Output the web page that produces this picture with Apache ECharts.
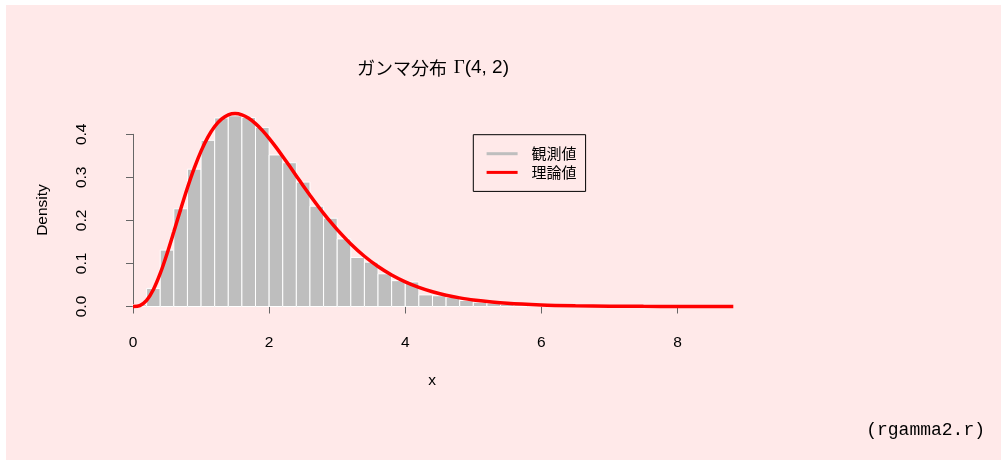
<!DOCTYPE html>
<html>
<head>
<meta charset="utf-8">
<script src="https://cdn.jsdelivr.net/npm/echarts@6/dist/echarts.min.js"></script>
<style>
  html, body { margin: 0; padding: 0; background: #ffffff; }
  #panel { position: absolute; left: 6px; top: 5px; right: 0; bottom: 0; background: #FFE9E9; }
  #chart { position: absolute; left: 0; top: 0; width: 1001px; height: 460px; }
</style>
</head>
<body>
<div id="panel"></div>
<div id="chart"></div>
<script>
// Histogram of simulated Gamma(4, 2) draws: bins of width 0.2
const binWidth = 0.2;
const binStarts = [
  0.0, 0.2, 0.4, 0.6, 0.8, 1.0, 1.2, 1.4, 1.6, 1.8,
  2.0, 2.2, 2.4, 2.6, 2.8, 3.0, 3.2, 3.4, 3.6, 3.8,
  4.0, 4.2, 4.4, 4.6, 4.8, 5.0, 5.2, 5.4, 5.6, 5.8,
  6.0, 6.2, 6.4, 6.6, 6.8
];
const observedDensity = [
  0.004, 0.042, 0.131, 0.227, 0.319, 0.386, 0.438, 0.443, 0.439, 0.416,
  0.352, 0.334, 0.289, 0.233, 0.205, 0.157, 0.114, 0.103, 0.076, 0.060,
  0.057, 0.027, 0.025, 0.021, 0.014, 0.010, 0.008, 0.005, 0.004, 0.003,
  0.002, 0.002, 0.001, 0.001, 0.001
];

// Theoretical density curve
const curveX = [
  0.0, 0.1, 0.2, 0.3, 0.4, 0.5, 0.6, 0.7, 0.8, 0.9,
  1.0, 1.1, 1.2, 1.3, 1.4, 1.5, 1.6, 1.7, 1.8, 1.9,
  2.0, 2.1, 2.2, 2.3, 2.4, 2.5, 2.6, 2.7, 2.8, 2.9,
  3.0, 3.2, 3.4, 3.6, 3.8, 4.0, 4.2, 4.4, 4.6, 4.8,
  5.0, 5.5, 6.0, 6.5, 7.0, 7.5, 8.0, 8.82
];
const curveY = [
  0.0000, 0.0022, 0.0143, 0.0395, 0.0767, 0.1226, 0.1735, 0.2256, 0.2757, 0.3213,
  0.3609, 0.3933, 0.4180, 0.4351, 0.4450, 0.4481, 0.4452, 0.4372, 0.4249, 0.4092,
  0.3907, 0.3703, 0.3486, 0.3261, 0.3034, 0.2807, 0.2586, 0.2371, 0.2165, 0.1969,
  0.1785, 0.1452, 0.1167, 0.0929, 0.0732, 0.0573, 0.0444, 0.0342, 0.0262, 0.0200,
  0.0151, 0.0074, 0.0035, 0.0017, 0.0008, 0.0003, 0.0002, 0.0000
];

// Axis tick ranges and the wider plotting window around them
const xTicks = { min: 0, max: 8, interval: 2 };
const yTicks = { min: 0, max: 0.4, interval: 0.1 };
const xWindow = { min: -0.4, max: 9.0 };
const yWindow = { min: -0.02, max: 0.46 };

const titleMain = 'ガンマ分布';
const titleSymbol = 'Γ';
const titleArgs = '(4, 2)';
const xLabel = 'x';
const yLabel = 'Density';
const legendNames = ['観測値', '理論値'];
const sourceNote = '(rgamma2.r)';

const histData = binStarts.map((s, i) => [s, s + binWidth, observedDensity[i]]);
const lineData = curveX.map((x, i) => [x, curveY[i]]);

const sansFont = '"Liberation Sans", Arial, sans-serif';
const cjkFont = '"Noto Sans CJK JP", "Liberation Sans", sans-serif';
const axisColor = '#666666';

// pixel frame of the tick span; the plotting grid shares the same scale
const frame = { left: 133, top: 134.3, width: 544.5, height: 172.2 };
const pxPerX = frame.width / (xTicks.max - xTicks.min);
const pxPerY = frame.height / (yTicks.max - yTicks.min);
const plotGrid = {
  left: frame.left - (xTicks.min - xWindow.min) * pxPerX,
  width: (xWindow.max - xWindow.min) * pxPerX,
  top: frame.top - (yWindow.max - yTicks.max) * pxPerY,
  height: (yWindow.max - yWindow.min) * pxPerY
};

const chart = echarts.init(document.getElementById('chart'), null, { renderer: 'canvas' });

const hiddenAxis = {
  show: false, type: 'value', gridIndex: 1,
  axisLine: { show: false }, axisTick: { show: false }, axisLabel: { show: false }, splitLine: { show: false }
};

chart.setOption({
  animation: false,
  backgroundColor: 'transparent',
  grid: [
    Object.assign({ containLabel: false }, frame),
    Object.assign({ containLabel: false }, plotGrid)
  ],
  xAxis: [
    {
      type: 'value', gridIndex: 0,
      min: xTicks.min, max: xTicks.max, interval: xTicks.interval,
      offset: 8,
      axisLine: { show: true, lineStyle: { color: axisColor, width: 1 } },
      axisTick: { show: true, length: 7, lineStyle: { color: axisColor } },
      axisLabel: { margin: 20, color: '#000', fontFamily: sansFont, fontSize: 15.5 },
      splitLine: { show: false }
    },
    Object.assign({}, hiddenAxis, { min: xWindow.min, max: xWindow.max })
  ],
  yAxis: [
    {
      type: 'value', gridIndex: 0,
      min: yTicks.min, max: yTicks.max, interval: yTicks.interval,
      offset: 24,
      axisLine: { show: true, lineStyle: { color: axisColor, width: 1 } },
      axisTick: { show: true, length: 7, lineStyle: { color: axisColor } },
      axisLabel: {
        rotate: 90, align: 'center', verticalAlign: 'bottom', margin: 19,
        color: '#000', fontFamily: sansFont, fontSize: 15.5,
        formatter: v => v.toFixed(1)
      },
      splitLine: { show: false }
    },
    Object.assign({}, hiddenAxis, { min: yWindow.min, max: yWindow.max })
  ],
  legend: {
    left: 473.3, top: 134.7, orient: 'vertical',
    padding: [10, 9, 10, 13.3],
    itemGap: 0.7, itemWidth: 31, itemHeight: 3,
    borderColor: '#000', borderWidth: 1, borderRadius: 0,
    backgroundColor: 'transparent',
    selectedMode: false,
    textStyle: { fontFamily: cjkFont, fontSize: 15, color: '#000', lineHeight: 18, padding: [0, 0, 0, 9] },
    data: [
      { name: legendNames[0], icon: 'rect', itemStyle: { color: '#BEBEBE' } },
      { name: legendNames[1], icon: 'rect', itemStyle: { color: '#FF0000' } }
    ]
  },
  series: [
    {
      name: legendNames[0],
      type: 'custom',
      xAxisIndex: 1, yAxisIndex: 1,
      data: histData,
      encode: { x: [0, 1], y: 2 },
      itemStyle: { color: '#BEBEBE' },
      renderItem: (params, api) => {
        const p0 = api.coord([api.value(0), 0]);
        const p1 = api.coord([api.value(1), api.value(2)]);
        return {
          type: 'rect',
          shape: { x: p0[0], y: p1[1], width: p1[0] - p0[0], height: p0[1] - p1[1] },
          style: { fill: '#BEBEBE', stroke: '#FFFFFF', lineWidth: 1 }
        };
      }
    },
    {
      name: legendNames[1],
      type: 'line',
      xAxisIndex: 1, yAxisIndex: 1,
      smooth: 0.3,
      showSymbol: false,
      data: lineData,
      itemStyle: { color: '#FF0000' },
      lineStyle: { color: '#FF0000', width: 3.5 }
    }
  ],
  graphic: [
    {
      type: 'text', x: 433, y: 68,
      style: {
        text: '{a|' + titleMain + '}  {g|' + titleSymbol + '}{b|' + titleArgs + '}',
        align: 'center', verticalAlign: 'middle',
        textAlign: 'center', textVerticalAlign: 'middle',
        rich: {
          a: { fontFamily: cjkFont, fontSize: 18, fill: '#000', color: '#000' },
          g: { fontFamily: '"Liberation Serif", "DejaVu Serif", serif', fontSize: 19, fill: '#000', color: '#000' },
          b: { fontFamily: sansFont, fontSize: 19, fill: '#000', color: '#000' }
        },
        fill: '#000'
      }
    },
    {
      type: 'text', x: 432, y: 381,
      style: {
        text: xLabel, font: '15.5px ' + sansFont, fill: '#000',
        align: 'center', verticalAlign: 'middle', textAlign: 'center', textVerticalAlign: 'middle'
      }
    },
    {
      type: 'text', x: 43, y: 210, rotation: Math.PI / 2,
      style: {
        text: yLabel, font: '15.5px ' + sansFont, fill: '#000',
        align: 'center', verticalAlign: 'middle', textAlign: 'center', textVerticalAlign: 'middle'
      }
    },
    {
      type: 'text', x: 985, y: 430,
      style: {
        text: sourceNote, font: '18px "Liberation Mono", "DejaVu Sans Mono", monospace', fill: '#000',
        align: 'right', verticalAlign: 'middle', textAlign: 'right', textVerticalAlign: 'middle'
      }
    }
  ]
});
</script>
</body>
</html>
